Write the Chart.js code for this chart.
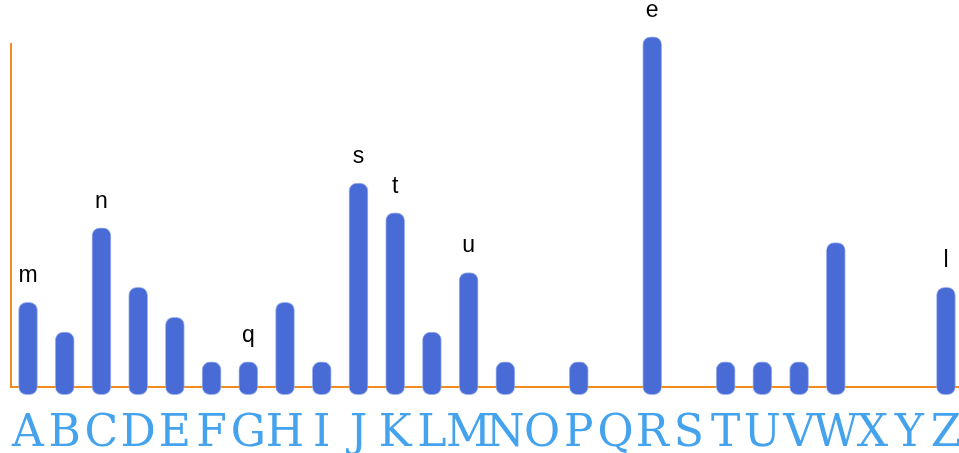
<!DOCTYPE html>
<html>
<head>
<meta charset="utf-8">
<script src="https://cdn.jsdelivr.net/npm/chart.js@4.4.1/dist/chart.umd.min.js"></script>
<style>
  body { margin: 0; background: #fff; }
  #wrap { width: 959px; height: 453px; }
</style>
</head>
<body>
<div id="wrap"><canvas id="chart"></canvas></div>
<script>
// categories along the bottom
const letters = ['A', 'B', 'C', 'D', 'E', 'F', 'G', 'H', 'I', 'J', 'K', 'L', 'M',
                 'N', 'O', 'P', 'Q', 'R', 'S', 'T', 'U', 'V', 'W', 'X', 'Y', 'Z'];
// bar heights (null = no bar)
const values = [3, 2, 5.5, 3.5, 2.5, 1, 1, 3, 1, 7, 6, 2, 4,
                1, null, 1, null, 11.9, null, 1, 1, 1, 5, null, null, 3.5];
// small text above some bars
const topLabels = ['m', '', 'n', '', '', '', 'q', '', '', 's', 't', '', 'u',
                   '', '', '', '', 'e', '', '', '', '', '', '', '', 'l'];

const orange = '#f28a1e';

const points = [];
values.forEach((v, i) => {
    if (v !== null) points.push({ x: i, y: v });
});

// draws the letters over the bars
const topLabelPlugin = {
    id: 'topLabels',
    afterDatasetsDraw(chart) {
        const ctx = chart.ctx;
        const meta = chart.getDatasetMeta(0);
        const pts = chart.data.datasets[0].data;
        ctx.save();
        ctx.font = '23px "Liberation Sans", Arial, sans-serif';
        ctx.fillStyle = '#000';
        ctx.textAlign = 'center';
        ctx.textBaseline = 'alphabetic';
        meta.data.forEach((bar, j) => {
            const txt = topLabels[pts[j].x];
            if (txt) ctx.fillText(txt, bar.x, bar.y - 20);
        });
        ctx.restore();
    }
};

new Chart(document.getElementById('chart'), {
    type: 'bar',
    data: {
        datasets: [{
            data: points,
            base: -0.1,
            clip: false,
            backgroundColor: '#486bd6',
            borderColor: 'rgba(150,172,236,0.9)',
            borderWidth: 1,
            borderSkipped: false,
            borderRadius: 8,
            barThickness: 19
        }]
    },
    options: {
        responsive: true,
        maintainAspectRatio: false,
        animation: false,
        layout: { padding: { left: 11, top: 44, right: 0, bottom: 0 } },
        plugins: {
            legend: { display: false },
            tooltip: { enabled: false }
        },
        scales: {
            x: {
                type: 'linear',
                offset: false,
                min: -0.463,
                max: 25.355,
                grid: { display: false, drawTicks: false, offset: false },
                border: { color: orange, width: 2 },
                afterBuildTicks: axis => {
                    axis.ticks = letters.map((l, i) => ({ value: i }));
                },
                afterFit: axis => {
                    axis.paddingLeft = 0;
                    axis.paddingRight = 0;
                    axis.height = 66;
                },
                ticks: {
                    autoSkip: false,
                    maxRotation: 0,
                    padding: 21,
                    color: '#45a3ee',
                    font: { family: '"DejaVu Serif", serif', size: 44 },
                    callback: v => letters[v]
                }
            },
            y: {
                min: 0.16,
                max: 11.66,
                grid: { display: false, drawTicks: false },
                border: { color: orange, width: 2 },
                ticks: { display: false }
            }
        }
    },
    plugins: [topLabelPlugin]
});
</script>
</body>
</html>
